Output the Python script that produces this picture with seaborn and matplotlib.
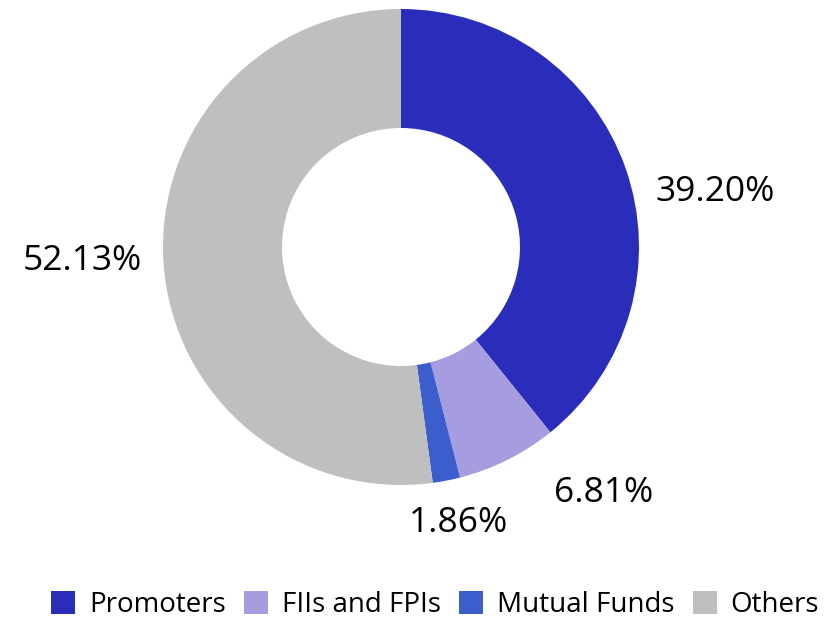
import matplotlib
matplotlib.use("Agg")
import matplotlib.pyplot as plt
import seaborn as sns
import numpy as np

categories = ["Promoters", "FIIs and FPIs", "Mutual Funds", "Others"]
values = [39.20, 6.81, 1.86, 52.13]
labels = ["39.20%", "6.81%", "1.86%", "52.13%"]
colors = ["#2A2DB9", "#A69CE0", "#3B5ECC", "#BFBFBF"]

# label positions in radius units (relative to pie centre)
label_pos = [(1.32, 0.23), (0.85, -1.035), (0.24, -1.16), (-1.34, -0.06)]

sns.set_theme(style="white")
plt.rcParams["font.family"] = ["Open Sans", "DejaVu Sans"]

W, H = 835, 619
fig = plt.figure(figsize=(W / 100, H / 100), dpi=100)
cx, cy, r = 401, 247, 238
ax = fig.add_axes([(cx - r) / W, (H - cy - r) / H, 2 * r / W, 2 * r / H])

wedges, _ = ax.pie(values, colors=sns.color_palette(colors), startangle=90,
                   counterclock=False, radius=1.0,
                   wedgeprops=dict(width=0.5, edgecolor="none"))
ax.set_xlim(-1, 1)
ax.set_ylim(-1, 1)
ax.set_aspect("equal")
ax.axis("off")

for lab, (x, y) in zip(labels, label_pos):
    ax.text(x, y, lab, ha="center", va="center", fontsize=25.5, color="#000000")

leg = fig.legend(wedges, categories, loc="center", bbox_to_anchor=(435 / W, 1 - 605 / H),
                 ncol=4, frameon=False, fontsize=20, handlelength=0.87, handleheight=0.87,
                 handletextpad=0.5, columnspacing=0.65, borderpad=0, borderaxespad=0)
for t in leg.get_texts():
    t.set_color("#000000")

fig.savefig("out.png", dpi=100)
